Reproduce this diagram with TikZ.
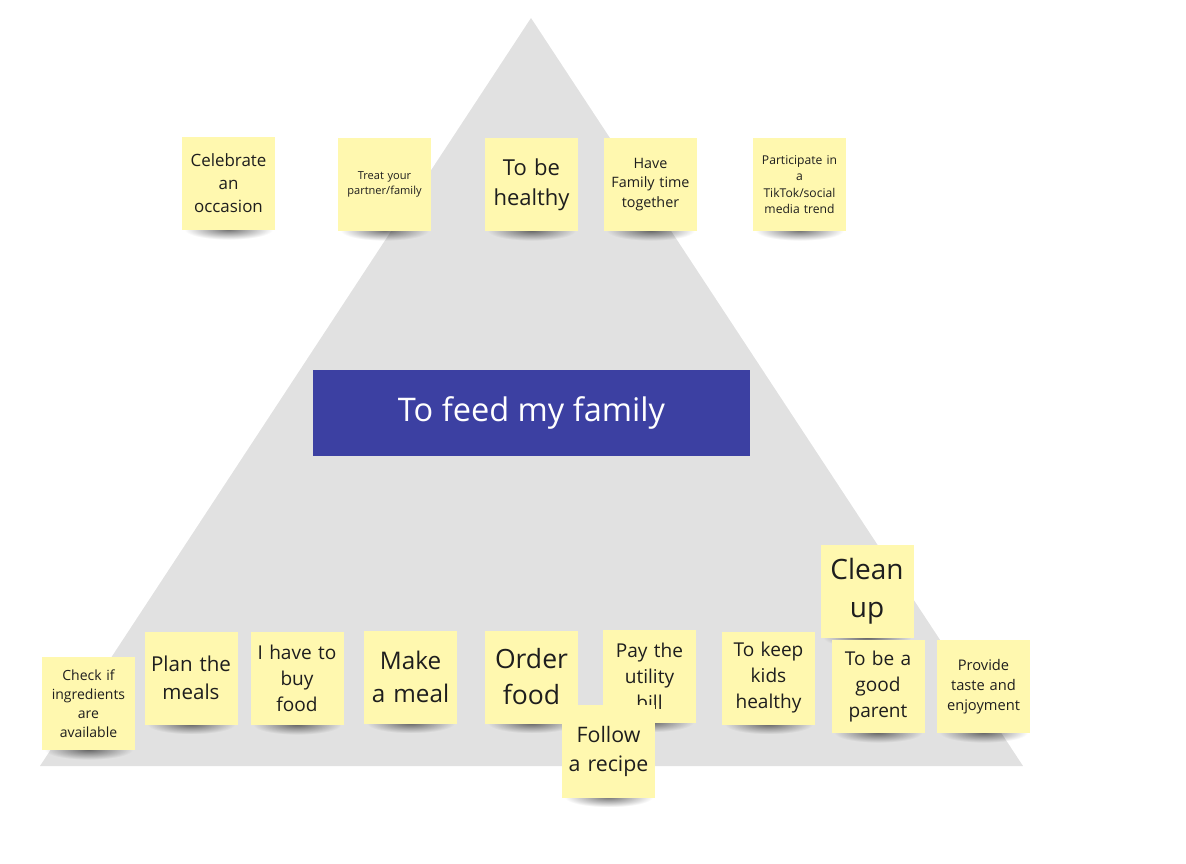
\documentclass[tikz,border=0pt]{standalone}
\usepackage{fontspec}
\setmainfont{Open Sans}
\usetikzlibrary{fadings}
\definecolor{trigray}{HTML}{E1E1E1}
\definecolor{goalblue}{HTML}{3C40A2}
\definecolor{stickyyellow}{HTML}{FFF8AF}
\definecolor{inkdark}{HTML}{1E1E1E}
\tikzfading[name=softshadow, inner color=transparent!0, outer color=transparent!100]
\tikzset{
  sticky/.style={fill=stickyyellow, draw=none, minimum width=69.75pt, minimum height=69.75pt,
    inner sep=0pt, align=center, text=inkdark, text width=64pt},
  goalbox/.style={fill=goalblue, draw=none, minimum width=327.75pt, minimum height=64.5pt,
    text=white, font=\fontsize{24.4}{29}\selectfont},
  noteshadow/.style={fill=black, opacity=0.55, path fading=softshadow, draw=none}
}
\newcommand\stickynote[5]{%
  \begin{scope}[shift={(#2)}]
    \fill[noteshadow] (-44,36) rectangle (44,56);
    \node[sticky, font=\fontsize{#3}{#4}\selectfont] (#1) at (0,0) {#5};
  \end{scope}
}
\begin{document}
\begin{tikzpicture}[x=0.75pt,y=-0.75pt]
\useasboundingbox (0,0) rectangle (1186,864);
% pyramid
\fill[trigray] (531,18) -- (1023,766) -- (40,766) -- cycle;
% central goal
\node[goalbox] (goal) at (531.5,413) {To feed my family};
% top row
\stickynote{celebrate}{228.5,183.5}{12.7}{17.25}{Celebrate\\an\\occasion}
\stickynote{treat}{384.5,184.5}{8.3}{11.25}{Treat your\\partner/family}
\stickynote{healthy}{531.5,184.5}{16.5}{22.5}{To be\\healthy}
\stickynote{familytime}{650.5,184.5}{10.75}{14.6}{Have\\Family time\\together}
\stickynote{tiktok}{799.5,184.5}{9.1}{12.4}{Participate in\\a\\TikTok/social\\media trend}
% bottom row
\stickynote{check}{88.5,703.5}{10.5}{14.25}{Check if\\ingredients\\are\\available}
\stickynote{plan}{191,678}{15.4}{21}{Plan the\\meals}
\stickynote{buy}{297,678.5}{14.3}{19.5}{I have to\\buy\\food}
\stickynote{make}{410.5,677}{18.2}{24.75}{Make\\a meal}
\stickynote{order}{531.5,677}{19.9}{27}{Order\\food}
\stickynote{pay}{649.5,676}{14.3}{19.5}{Pay the\\utility\\bill}
\stickynote{recipe}{608.5,751}{16}{21.75}{Follow\\a recipe}
\stickynote{kids}{768.5,678}{14.3}{19.5}{To keep\\kids\\healthy}
\stickynote{clean}{867,591.5}{21}{28.5}{Clean\\up}
\stickynote{parent}{878,686.5}{14.3}{19.5}{To be a\\good\\parent}
\stickynote{taste}{983.5,686.5}{11}{15}{Provide\\taste and\\enjoyment}
\end{tikzpicture}
\end{document}
